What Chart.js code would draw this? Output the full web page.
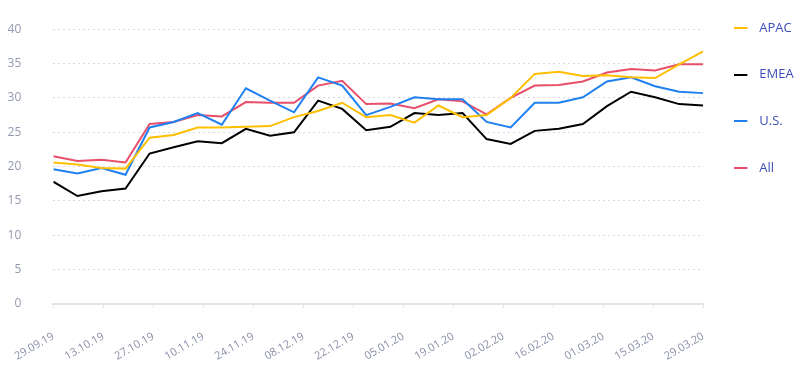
<!DOCTYPE html>
<html>
<head>
<meta charset="utf-8">
<script src="https://cdn.jsdelivr.net/npm/chart.js@4.4.1/dist/chart.umd.min.js"></script>
<style>
  html, body { margin: 0; padding: 0; background: #fff; }
</style>
</head>
<body>
<canvas id="myChart" width="806" height="374"></canvas>
<script>
// tick labels of the x axis (every second week)
var xLabels = ['29.09.19', '13.10.19', '27.10.19', '10.11.19', '24.11.19', '08.12.19', '22.12.19',
  '05.01.20', '19.01.20', '02.02.20', '16.02.20', '01.03.20', '15.03.20', '29.03.20'];

// series values
var apac = [20.6, 20.3, 19.8, 19.7, 24.2, 24.6, 25.7, 25.7, 25.8, 25.9, 27.2, 28.1, 29.3, 27.2,
  27.5, 26.4, 28.9, 27.2, 27.5, 30.0, 33.5, 33.8, 33.2, 33.3, 33.0, 32.9, 34.9, 36.8];
var emea = [17.8, 15.7, 16.4, 16.8, 21.9, 22.8, 23.7, 23.4, 25.5, 24.5, 25.0, 29.6, 28.4, 25.3,
  25.8, 27.8, 27.5, 27.8, 24.0, 23.3, 25.2, 25.5, 26.2, 28.8, 30.9, 30.1, 29.1, 28.9];
var us = [19.6, 19.0, 19.8, 18.8, 25.7, 26.5, 27.8, 26.1, 31.4, 29.6, 27.9, 33.0, 31.8, 27.5,
  28.7, 30.1, 29.8, 29.8, 26.5, 25.7, 29.3, 29.3, 30.1, 32.4, 33.0, 31.7, 30.9, 30.7];
var all = [21.5, 20.8, 21.0, 20.6, 26.2, 26.5, 27.5, 27.3, 29.4, 29.3, 29.3, 31.8, 32.5, 29.1,
  29.2, 28.5, 29.8, 29.5, 27.6, 30.0, 31.8, 31.9, 32.4, 33.7, 34.2, 34.0, 34.9, 34.9];

var lastIndex = apac.length - 1;

Chart.defaults.font.family = "'Open Sans', sans-serif";

// small line used as legend marker
legendLine = (color) => {
  var c = document.createElement('canvas');
  c.width = 21;
  c.height = 2;
  var g = c.getContext('2d');
  g.fillStyle = color;
  g.fillRect(0, 0, 13, 2);
  return c;
}

toPoints = (values) => values.map((v, i) => ({ x: i, y: v }));

makeSet = (label, values, color) => {
  return {
    label: label,
    data: toPoints(values),
    borderColor: color,
    backgroundColor: color,
    borderWidth: 2,
    pointRadius: 0,
    pointHoverRadius: 0,
    pointStyle: legendLine(color),
    tension: 0,
    fill: false
  }
}

// legend sits higher than the layout would put it
var legendShift = {
  id: 'legendShift',
  afterLayout: (chart) => {
    chart.legend.top -= 41.5;
    chart.legend.bottom -= 41.5;
  }
};

var ctx = document.getElementById('myChart').getContext('2d');
var chart = new Chart(ctx, {
  type: 'line',
  data: {
    datasets: [
      makeSet('APAC', apac, '#ffbf00'),
      makeSet('EMEA', emea, '#000000'),
      makeSet('U.S.', us, '#1f80f0'),
      makeSet('All', all, '#e84f6a')
    ]
  },
  options: {
    responsive: false,
    animation: false,
    layout: { padding: { left: 7.6, top: 29.3, right: 2.4, bottom: 11 } },
    plugins: {
      tooltip: { enabled: false },
      legend: {
        position: 'right',
        align: 'start',
        labels: {
          usePointStyle: true,
          pointStyleWidth: 15.8,
          padding: 33.7,
          color: '#3d4db7',
          font: { size: 13 }
        }
      }
    },
    scales: {
      x: {
        type: 'linear',
        min: 0,
        max: lastIndex,
        afterBuildTicks: (scale) => {
          scale.ticks = xLabels.map((l, i) => ({ value: i * lastIndex / (xLabels.length - 1) }));
        },
        ticks: {
          autoSkip: false,
          minRotation: 30,
          maxRotation: 30,
          padding: 0,
          color: '#8a90a8',
          font: { size: 11 },
          callback: (v, i) => xLabels[i]
        },
        grid: { drawOnChartArea: false, tickLength: 26, tickBorderDash: [3, 100], color: '#e3e4ec' },
        border: { color: '#e3e4ec', width: 2 }
      },
      y: {
        min: 0,
        max: 40,
        ticks: { stepSize: 5, padding: 0, color: '#9499b0', font: { size: 12 } },
        grid: { tickLength: 32, tickColor: 'transparent', color: '#d9dae0' },
        border: { display: false, dash: [2, 3] }
      }
    }
  },
  plugins: [legendShift]
});
</script>
</body>
</html>
